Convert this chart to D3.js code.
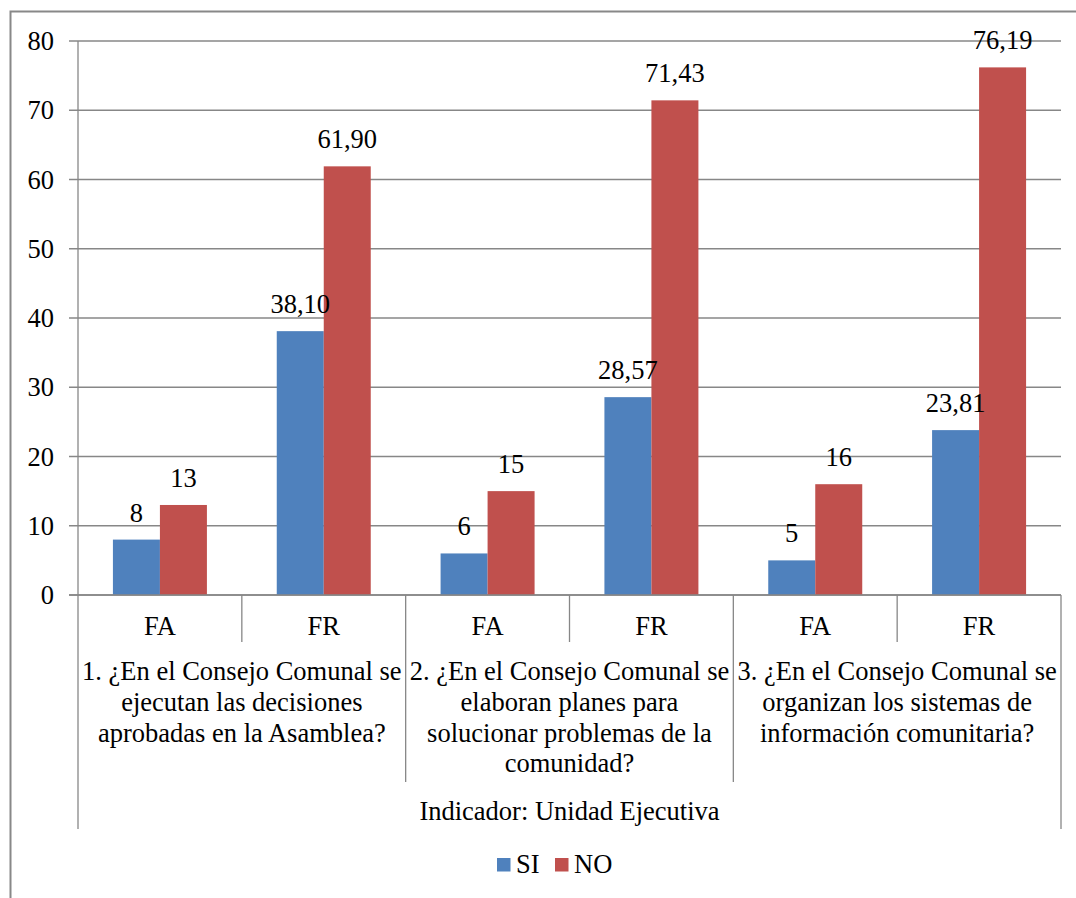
<!DOCTYPE html>
<html lang="es">
<head>
  <meta charset="UTF-8">
  <title>Indicador: Unidad Ejecutiva</title>
  <script src="https://d3js.org/d3.v7.min.js"></script>
  <style>
    body { margin: 0; background: #fff; }
    svg { display: block; }
    .grid line, .sep { stroke: #878787; stroke-width: 1.3; }
  </style>
</head>
<body>
  <svg width="1076" height="898" font-family="'Liberation Serif', 'DejaVu Serif', serif"></svg>
  <script>
    // data
    const questions = [
      ["1. ¿En el Consejo Comunal se", "ejecutan las decisiones", "aprobadas en la Asamblea?"],
      ["2. ¿En el Consejo Comunal se", "elaboran planes para", "solucionar problemas de la", "comunidad?"],
      ["3. ¿En el Consejo Comunal se", "organizan los sistemas de", "información comunitaria?"]
    ];
    const subcats = ["FA", "FR"];
    const seriesNames = ["SI", "NO"];
    const siValues = [8, 38.10, 6, 28.57, 5, 23.81];
    const noValues = [13, 61.90, 15, 71.43, 16, 76.19];
    const yTicks = [0, 10, 20, 30, 40, 50, 60, 70, 80];
    const indicator = "Indicador: Unidad Ejecutiva";
    const colors = { SI: "#4F81BD", NO: "#C0504D" };

    const svg = d3.select("svg");
    const plotL = 78, plotR = 1061, plotT = 41, plotB = 595;
    const fs = 26.5;

    // outer frame
    svg.append("rect")
      .attr("x", 10.5).attr("y", 11.5)
      .attr("width", 1100).attr("height", 920)
      .attr("fill", "none").attr("stroke", "#888").attr("stroke-width", 2);

    const cats = [];
    questions.forEach((q, qi) => subcats.forEach((s, si) => cats.push({ q: qi, sub: s, i: qi * 2 + si })));

    const x0 = d3.scaleBand().domain(cats.map(d => d.i)).range([plotL, plotR]).paddingInner(0).paddingOuter(0);
    const x1 = d3.scaleBand().domain(seriesNames).range([0, x0.bandwidth()]).paddingInner(0).paddingOuter(0.743);
    const y = d3.scaleLinear().domain([0, 80]).range([plotB, plotT]);

    // gridlines + y ticks
    const grid = svg.append("g").attr("class", "grid");
    grid.selectAll("line.g").data(yTicks).enter().append("line")
      .attr("x1", plotL - 9).attr("x2", plotR)
      .attr("y1", d => y(d)).attr("y2", d => y(d));
    svg.selectAll("text.ytick").data(yTicks).enter().append("text")
      .attr("class", "ytick")
      .attr("x", 54).attr("y", d => y(d)).attr("dy", "0.34em")
      .attr("text-anchor", "end").attr("font-size", fs)
      .text(d => d);

    // bars
    const rows = cats.map(c => ({ cat: c, vals: [{ s: "SI", v: siValues[c.i] }, { s: "NO", v: noValues[c.i] }] }));
    const fmt = v => Number.isInteger(v) ? String(v) : v.toFixed(2).replace(".", ",");
    const bg = svg.selectAll("g.bars").data(rows).enter().append("g")
      .attr("transform", d => `translate(${x0(d.cat.i)},0)`);
    bg.selectAll("rect").data(d => d.vals).enter().append("rect")
      .attr("x", d => x1(d.s)).attr("width", x1.bandwidth())
      .attr("y", d => y(d.v)).attr("height", d => y(0) - y(d.v))
      .attr("fill", d => colors[d.s]);
    bg.selectAll("text").data(d => d.vals).enter().append("text")
      .attr("x", d => x1(d.s) + x1.bandwidth() / 2)
      .attr("y", d => y(d.v) - 18)
      .attr("text-anchor", "middle").attr("font-size", fs)
      .text(d => fmt(d.v));

    // y axis line and baseline
    svg.append("line").attr("class", "sep")
      .attr("x1", plotL).attr("x2", plotL).attr("y1", plotT).attr("y2", plotB);
    svg.append("line").attr("class", "sep")
      .attr("x1", plotL - 9).attr("x2", plotR).attr("y1", plotB).attr("y2", plotB);

    // category separators
    const bounds = d3.range(cats.length + 1);
    svg.selectAll("line.cs").data(bounds).enter().append("line")
      .attr("class", "sep")
      .attr("x1", d => plotL + d * x0.step()).attr("x2", d => plotL + d * x0.step())
      .attr("y1", plotB)
      .attr("y2", d => (d === 0 || d === cats.length) ? 829 : (d % 2 === 0 ? 782 : 642));

    // sub category labels
    svg.selectAll("text.sub").data(cats).enter().append("text")
      .attr("x", d => x0(d.i) + x0.bandwidth() / 2).attr("y", 635)
      .attr("text-anchor", "middle").attr("font-size", fs)
      .text(d => d.sub);

    // question labels
    const qg = svg.selectAll("text.q").data(questions).enter().append("text")
      .attr("text-anchor", "middle").attr("font-size", fs)
      .attr("x", (d, i) => plotL + (i * 2 + 1) * x0.step());
    qg.selectAll("tspan").data(d => d).enter().append("tspan")
      .attr("x", function () { return this.parentNode.getAttribute("x"); })
      .attr("y", (d, i) => 680 + i * 30.8)
      .text(d => d);

    svg.append("text")
      .attr("x", (plotL + plotR) / 2).attr("y", 820)
      .attr("text-anchor", "middle").attr("font-size", fs)
      .text(indicator);

    // legend
    const legX = [497, 555];
    const lg = svg.selectAll("g.leg").data(seriesNames).enter().append("g")
      .attr("transform", (d, i) => `translate(${legX[i]},858)`);
    lg.append("rect").attr("width", 13.5).attr("height", 13.5).attr("fill", d => colors[d]);
    lg.append("text").attr("x", 19).attr("y", 15).attr("font-size", fs).text(d => d);
  </script>
</body>
</html>
